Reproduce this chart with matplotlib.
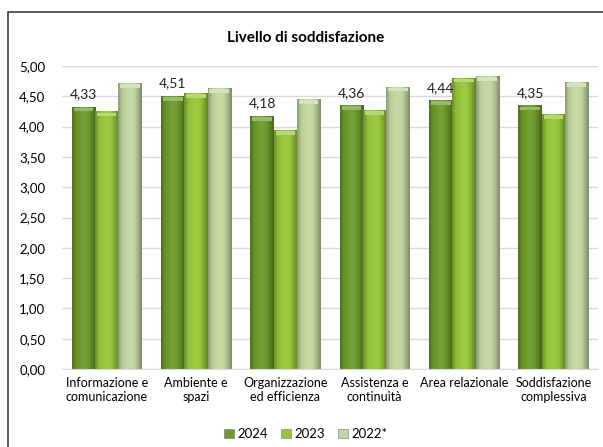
import numpy as np
import matplotlib.pyplot as plt
from matplotlib.colors import LinearSegmentedColormap, to_rgb
from matplotlib.patches import Rectangle

categories = ['Informazione e\ncomunicazione', 'Ambiente e\nspazi', 'Organizzazione\ned efficienza',
              'Assistenza e\ncontinuità', 'Area relazionale', 'Soddisfazione\ncomplessiva']
series = ['2024', '2023', '2022*']
v2024 = [4.33, 4.51, 4.18, 4.36, 4.44, 4.35]
v2023 = [4.25, 4.56, 3.94, 4.27, 4.81, 4.21]
v2022 = [4.72, 4.64, 4.46, 4.66, 4.84, 4.74]
yticks = [0, 0.5, 1, 1.5, 2, 2.5, 3, 3.5, 4, 4.5, 5]

colors = ['#6d9a2b', '#97c63a', '#c2d6a0']

plt.rcParams['font.family'] = ['Lato', 'DejaVu Sans']

fig = plt.figure(figsize=(6.03, 4.47), dpi=100)
ax = fig.add_axes([62/603, (447-369)/447, 536/603, (369-66)/447])

# outer frame (cropped at right and bottom)
fig.patches.append(Rectangle((8/603, -0.05), 1.0, (447-12)/447 + 0.05, transform=fig.transFigure,
                             fill=False, edgecolor='#404040', linewidth=1.2))


def shade(c, f):
    r = np.array(to_rgb(c))
    if f < 1:
        return tuple(r * f)
    return tuple(r + (1 - r) * (f - 1))


x = np.arange(len(categories))
w = 0.26
allvals = [v2024, v2023, v2022]
for i, (vals, col) in enumerate(zip(allvals, colors)):
    cmap = LinearSegmentedColormap.from_list(
        'c%d' % i,
        [shade(col, 0.72), shade(col, 0.95), shade(col, 1.0), shade(col, 1.08),
         shade(col, 1.0), shade(col, 0.85), shade(col, 0.65)])
    grad = np.linspace(0, 1, 64).reshape(1, -1)
    bars = ax.bar(x + (i - 1) * w, vals, w, color=col, edgecolor='none', zorder=2,
                  label=series[i])
    for b in bars:
        bx, bw, bh = b.get_x(), b.get_width(), b.get_height()
        im = ax.imshow(grad, cmap=cmap, aspect='auto', extent=[bx, bx + bw, 0, bh],
                       zorder=2.1, interpolation='bicubic')
        im.set_clip_path(b)
        # top bevel highlight
        ax.add_patch(Rectangle((bx + bw * 0.08, bh - 0.08), bw * 0.84, 0.06,
                               facecolor=shade(col, 1.3), edgecolor='none', zorder=2.2))

for xi, v in zip(x - w, v2024):
    ax.text(xi, v + 0.1, ('%.2f' % v).replace('.', ','), ha='center', va='bottom',
            fontsize=10, color='#222222')

ax.set_xlim(-0.5, len(categories) - 0.5)
ax.set_ylim(0, 5)
ax.set_yticks(yticks)
ax.set_yticklabels([('%.2f' % t).replace('.', ',') for t in yticks], fontsize=9.5)
ax.set_xticks(x)
ax.set_xticklabels(categories, fontsize=9)
ax.tick_params(length=0, pad=6)
ax.tick_params(axis='y', pad=12)
ax.grid(axis='y', color='#d9d9d9', linewidth=1, zorder=0)
ax.set_axisbelow(True)
for s in ['top', 'right', 'left']:
    ax.spines[s].set_visible(False)
ax.spines['bottom'].set_color('#d9d9d9')

fig.text(306/603, (447-38)/447, 'Livello di soddisfazione', ha='center', va='center',
         fontsize=11, fontweight='bold')

handles = [Rectangle((0, 0), 1, 1, facecolor=c, edgecolor='#888888', linewidth=0.5) for c in colors]
fig.legend(handles, series, loc='center', bbox_to_anchor=(306/603, (447-434)/447), ncol=3,
           frameon=False, fontsize=9.5, handlelength=0.7, handleheight=0.7, handletextpad=0.3,
           columnspacing=1.0)

fig.savefig('out.png', dpi=100)
